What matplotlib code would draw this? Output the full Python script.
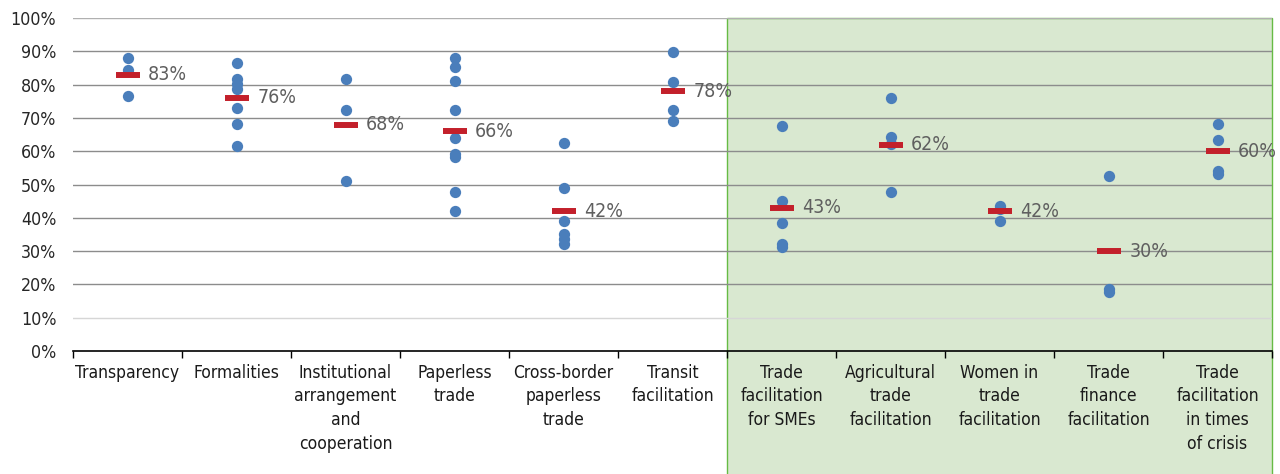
import matplotlib.pyplot as plt
import matplotlib.transforms as mtransforms
from matplotlib.patches import Rectangle

categories = [
    "Transparency", "Formalities", "Institutional\narrangement\nand\ncooperation",
    "Paperless\ntrade", "Cross-border\npaperless\ntrade", "Transit\nfacilitation",
    "Trade\nfacilitation\nfor SMEs", "Agricultural\ntrade\nfacilitation",
    "Women in\ntrade\nfacilitation", "Trade\nfinance\nfacilitation",
    "Trade\nfacilitation\nin times\nof crisis",
]

# individual country/economy scores (%)
scores = [
    [88, 84.5, 76.5],
    [86.5, 81.6, 80.3, 78.8, 73.1, 68.1, 61.6],
    [81.7, 72.5, 51.1],
    [88, 85.3, 81, 72.5, 64.1, 59.2, 58.2, 47.7, 42.0],
    [62.5, 49.0, 39.1, 35.0, 33.5, 32.0],
    [89.7, 80.7, 72.5, 69.0],
    [67.5, 45.0, 38.4, 32.2, 31.3],
    [76.0, 64.4, 62.2, 47.7],
    [43.6, 42.5, 39.1],
    [52.6, 18.7, 17.7],
    [68.2, 63.3, 54.1, 53.2],
]

averages = [83, 76, 68, 66, 42, 78, 43, 62, 42, 30, 60]

first_green = 6

plt.rcParams['font.family'] = ['DejaVu Sans']
plt.rcParams['font.stretch'] = 'condensed'

fig = plt.figure(figsize=(12.8, 4.74), dpi=100)
ax = fig.add_axes([73 / 1280, 1 - 351 / 474, 1199 / 1280, 333 / 474])

n = len(categories)
ax.set_xlim(-0.5, n - 0.5)
ax.set_ylim(0, 100)

# green shaded panel
trans = mtransforms.blended_transform_factory(ax.transData, ax.transAxes)
ax.add_patch(Rectangle((first_green - 0.5, -0.5), n - first_green, 1.5,
                       transform=trans, facecolor="#d9e8d0", edgecolor="#66bb44",
                       linewidth=1.0, clip_on=False, zorder=0.1))

# gridlines
for v in range(10, 101, 10):
    col = "#d6d6d6" if v == 10 else ("#b0b0b0" if v == 100 else "#8c8c8c")
    ax.axhline(v, color=col, linewidth=1.0, zorder=0.5)

for i, vals in enumerate(scores):
    ax.scatter([i] * len(vals), vals, s=66, color="#4a7ebb", zorder=3, linewidths=0)

ax.plot(range(n), averages, linestyle="none", marker="_", markersize=17,
        markeredgewidth=4.3, color="#c3202b", zorder=4)

for i, a in enumerate(averages):
    ax.text(i + 0.19, a, f"{a}%", color="#5f5f5f", fontsize=14,
            va="center", ha="left", zorder=5)

ax.set_yticks(range(0, 101, 10))
ax.set_yticklabels([f"{v}%" for v in range(0, 101, 10)], fontsize=12.8,
                   color="#262626")
ax.tick_params(axis="y", length=0, pad=12)

ax.set_xticks([i - 0.5 for i in range(n + 1)])
ax.set_xticklabels([])
ax.tick_params(axis="x", which="major", length=5, color="#000000", width=1)
ax.set_xticks(range(n), minor=True)
ax.set_xticklabels(categories, minor=True, fontsize=12.5, color="#1a1a1a",
                   linespacing=1.42, va="top")
ax.tick_params(axis="x", which="minor", length=0, pad=9)

for s in ["top", "right", "left"]:
    ax.spines[s].set_visible(False)
ax.spines["bottom"].set_color("#000000")
ax.spines["bottom"].set_linewidth(1.2)
ax.spines["bottom"].set_zorder(6)

fig.savefig("out.png", dpi=100)
